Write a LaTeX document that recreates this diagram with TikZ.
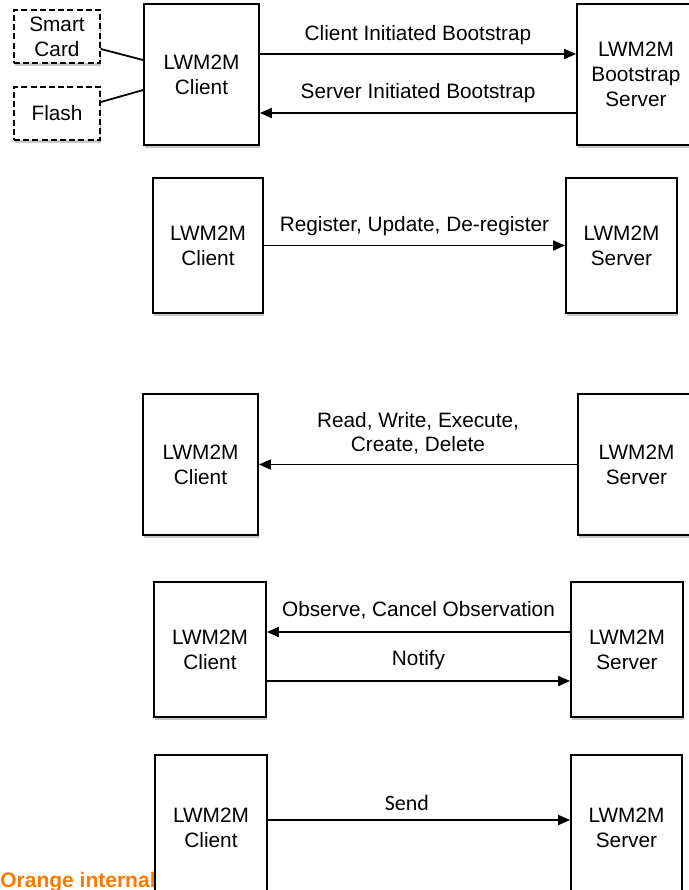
\documentclass[tikz,border=0pt]{standalone}
\usepackage{fontspec}
\setmainfont{Liberation Sans}
\newfontfamily\sendfont{Carlito}
\usepackage{xcolor}
\usepackage{tikz}
\usetikzlibrary{positioning,arrows.meta,shadows}
\definecolor{orangebrand}{HTML}{FF7900}

\begin{document}
\begin{tikzpicture}[
  x=0.5pt, y=-0.5pt,
  box/.style={draw, line width=0.9pt, fill=white, align=center, inner sep=0pt,
    font=\fontsize{10.4}{12.5}\selectfont,
    drop shadow={shadow xshift=0.6pt, shadow yshift=-1.4pt, opacity=0.45}},
  store/.style={box, dashed, dash pattern=on 3pt off 1.6pt, minimum width=43pt, minimum height=26.5pt},
  cli/.style={box, minimum width=56pt, minimum height=68pt},
  srv/.style={box, minimum width=56pt, minimum height=68pt},
  lbl/.style={inner sep=0pt, align=center, font=\fontsize{10.4}{12}\selectfont,
    text height=0.75em, text depth=0.25em},
  arrow/.style={-{Triangle[length=6pt,width=5pt]}, line width=0.9pt},
  link/.style={line width=0.9pt}
]
\useasboundingbox (0,0) rectangle (689,890);

% bootstrap
\node[store] (card) at (57,36.5) {Smart\\Card};
\node[store] (flash) at (57,113.5) {Flash};
\node[cli, minimum width=57.5pt, minimum height=70.5pt] (cli1) at (201.5,74.5) {LWM2M\\Client};
\node[srv, minimum width=59pt, minimum height=70.5pt] (bss) at (636,74.5) {LWM2M\\Bootstrap\\Server};
\draw[link] ([yshift=-6.25pt]card.east) -- ([yshift=7.25pt]cli1.west);
\draw[link] ([yshift=5.75pt]flash.east) -- ([yshift=-7.75pt]cli1.west);
\draw[arrow] ([yshift=10.25pt]cli1.east) -- ([yshift=10.25pt]cli1.east -| bss.west)
  node[lbl, midway, above=3.6pt] {Client Initiated Bootstrap};
\draw[arrow] ([yshift=-19.25pt]bss.west) -- ([yshift=-19.25pt]bss.west -| cli1.east)
  node[lbl, midway, above=4.4pt] {Server Initiated Bootstrap};

% registration
\node[cli, minimum width=55pt, minimum height=67.5pt] (cli2) at (208,245.5) {LWM2M\\Client};
\node[srv, minimum width=55.5pt, minimum height=67.5pt] (srv2) at (621.5,245.5) {LWM2M\\Server};
\draw[arrow] (cli2.east) -- (srv2.west)
  node[lbl, midway, above=4.2pt] {Register, Update, De-register};

% device management
\node[cli, minimum width=57.5pt, minimum height=70.5pt] (cli3) at (200.5,464.5) {LWM2M\\Client};
\node[srv, minimum width=58.5pt, minimum height=70.5pt] (srv3) at (636.5,464.5) {LWM2M\\Server};
\draw[arrow] (srv3.west) -- (cli3.east)
  node[lbl, midway, above=3.6pt] {Read, Write, Execute,\\Create, Delete};

% information reporting
\node[cli, minimum width=56pt, minimum height=67.5pt] (cli4) at (210,649.5) {LWM2M\\Client};
\node[srv, minimum width=56pt, minimum height=67.5pt] (srv4) at (627,649.5) {LWM2M\\Server};
\draw[arrow] ([yshift=8.75pt]srv4.west) -- ([yshift=8.75pt]srv4.west -| cli4.east)
  node[lbl, midway, above=5pt] {Observe, Cancel Observation};
\draw[arrow] ([yshift=-15.75pt]cli4.east) -- ([yshift=-15.75pt]cli4.east -| srv4.west)
  node[lbl, midway, above=4.6pt] {Notify};

% send
\node[anchor=base west, inner sep=0pt, text=orangebrand, font=\fontsize{10.5}{12}\selectfont\bfseries] (tag) at (0,887) {Orange internal};
\node[cli, minimum width=56pt, minimum height=72.5pt] (cli5) at (211,827.5) {LWM2M\\Client};
\node[srv, minimum width=55.5pt, minimum height=72.5pt] (srv5) at (626.5,827.5) {LWM2M\\Server};
\draw[arrow] ([yshift=3.75pt]cli5.east) -- ([yshift=3.75pt]cli5.east -| srv5.west)
  node[lbl, pos=0.46, above=1.6pt, font=\sendfont\fontsize{11}{12}\selectfont] {Send};
\end{tikzpicture}
\end{document}
